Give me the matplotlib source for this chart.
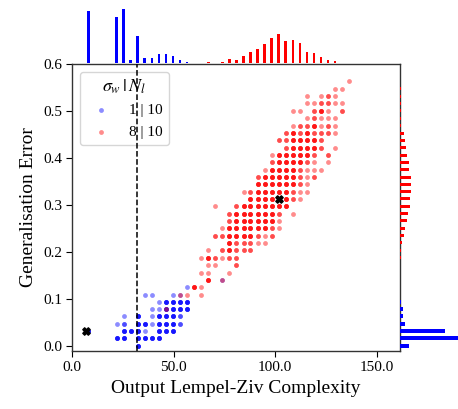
import numpy as np
import matplotlib
matplotlib.use('Agg')
import matplotlib.pyplot as plt
from matplotlib.ticker import FormatStrFormatter

plt.rcParams['font.family'] = ['Liberation Serif', 'DejaVu Serif']
plt.rcParams['mathtext.fontset'] = 'stix'

# grid of values the points sit on
lz_levels = [7.9, 11.4, 14.9, 18.3, 21.8, 25.3, 28.8, 32.2, 35.7, 39.2,
             42.7, 46.1, 49.6, 53.1, 56.6, 60.0, 63.5, 67.0, 70.5, 73.9,
             77.4, 80.9, 84.4, 87.8, 91.3, 94.8, 98.3, 101.7, 105.2, 108.7,
             112.2, 115.6, 119.1, 122.6, 126.1, 129.5, 133.0, 136.5]
err_levels = [0.000, 0.016, 0.031, 0.047, 0.063, 0.078, 0.094, 0.109, 0.125,
              0.141, 0.156, 0.172, 0.188, 0.203, 0.219, 0.234, 0.250, 0.266,
              0.281, 0.297, 0.313, 0.328, 0.344, 0.359, 0.375, 0.391, 0.406,
              0.422, 0.438, 0.453, 0.469, 0.484, 0.500, 0.516, 0.531, 0.547,
              0.563]

# scatter: error row -> (first lz column, number of samples per column)
blue_rows = {
    9: (19, "1"),
    8: (14, "1"),
    7: (8, "11..11"),
    6: (10, "14444"),
    5: (9, "114444"),
    4: (5, "1.4.14442"),
    3: (4, "12.4414442"),
    2: (0, "4....4441.444"),
    1: (4, "44.4444"),
    0: (7, "4"),
}
red_rows = {
    36: (37, "1"),
    35: (35, "11"),
    34: (31, "1.121"),
    33: (31, "112211"),
    32: (29, "11.241.2"),
    31: (31, "12111"),
    30: (29, "1224121"),
    29: (28, "24242221"),
    28: (27, "2244442"),
    27: (28, "244442.1"),
    26: (26, "1444442.2"),
    25: (26, "2444421.1"),
    24: (25, "144442111"),
    23: (24, "244444212"),
    22: (24, "44444421"),
    21: (22, "1244444211"),
    20: (23, "44444421"),
    19: (18, "1..24444444"),
    18: (20, "24444442.1"),
    17: (20, "24444441"),
    16: (19, "144444421"),
    15: (18, "224444212"),
    14: (20, "422211"),
    13: (17, "1.24222"),
    12: (16, "142122"),
    11: (17, "11..2"),
    10: (16, "11..1"),
    9: (17, "4.1"),
    8: (15, "41"),
    7: (13, "11.1"),
    5: (11, "1"),
}

cross_lz = [6.8, 101.7]
cross_err = [0.031, 0.313]
dashed_lz = 31.7

# marginal histograms (heights)
top_blue_idx = [0, 4, 5, 6, 7, 8, 9, 10, 11, 12, 13, 14]
top_blue_h = [52, 46, 53.7, 3.4, 27.4, 5, 5, 8.7, 8.7, 6.7, 3.4, 1.4]
top_red_idx = [16, 17, 18, 19, 20, 21, 22, 23, 24, 25, 26, 27, 28, 29, 30,
               31, 32, 33, 34, 35]
top_red_h = [0.5, 1, 0.5, 0.7, 4.3, 2.7, 7, 11, 13.7, 19.3, 25, 29.3, 21.7,
             22.7, 20.3, 11, 10, 6, 3.3, 1.7]
right_blue_idx = [0, 1, 2, 3, 4, 5, 6]
right_blue_len = [9.3, 62, 44.7, 4.7, 3.3, 2.7, 0.7]
right_red_idx = [12, 13, 14, 15, 16, 17, 18, 19, 20, 21, 22, 23, 24, 25, 26,
                 27, 28, 29, 30, 31, 32, 33, 34, 35]
right_red_len = [0.7, 1.3, 2.3, 4, 5.3, 6.7, 8, 10, 9.7, 11.3, 11.3, 10.7, 9,
                 9, 6.7, 6, 4.7, 4, 1.3, 1.0, 1.0, 0.7, 0.5, 0.5]


def expand(rows):
    xs, ys = [], []
    for k, (start, pattern) in rows.items():
        for i, ch in enumerate(pattern):
            if ch != '.':
                n = int(ch)
                xs += [lz_levels[start + i]] * n
                ys += [err_levels[k]] * n
    return xs, ys


W, H = 458, 409
fig = plt.figure(figsize=(W / 100, H / 100), dpi=100)
ax = fig.add_axes([72.3 / W, 58 / H, 327.7 / W, 287 / H])
ax_top = fig.add_axes([72.3 / W, 346 / H, 327.7 / W, 63 / H])
ax_right = fig.add_axes([400 / W, 58 / H, 58 / W, 287 / H])

bx, by = expand(blue_rows)
rx, ry = expand(red_rows)
ax.scatter(bx, by, s=12, color='blue', alpha=0.45, linewidths=0, label='1 | 10')
ax.scatter(rx, ry, s=12, color='red', alpha=0.45, linewidths=0, label='8 | 10')
ax.scatter(cross_lz, cross_err, marker='X', s=28, color='black', zorder=4)
ax.axvline(dashed_lz, color='black', ls='--', lw=1.1, zorder=6)

ax.set_xlim(0, 161.5)
ax.set_ylim(-0.011, 0.6)
ax.set_xticks([0, 50, 100, 150])
ax.set_yticks([0.0, 0.1, 0.2, 0.3, 0.4, 0.5, 0.6])
ax.xaxis.set_major_formatter(FormatStrFormatter('%.1f'))
ax.yaxis.set_major_formatter(FormatStrFormatter('%.1f'))
ax.tick_params(labelsize=11, direction='out', length=4)
for sp in ax.spines.values():
    sp.set_color('#333333')
    sp.set_linewidth(1.0)
ax.set_xlabel('Output Lempel-Ziv Complexity', fontsize=14)
ax.set_ylabel('Generalisation Error', fontsize=14)
leg = ax.legend(loc='upper left', title=r'$\sigma_w\,|\,N_l$', fontsize=11,
                title_fontsize=13)

# top marginal
ax_top.bar([lz_levels[i] for i in top_blue_idx], top_blue_h, width=1.3, color='blue')
ax_top.bar([lz_levels[i] for i in top_red_idx], top_red_h, width=1.3, color='red')
ax_top.set_xlim(ax.get_xlim())
ax_top.set_ylim(0, 63)
ax_top.axis('off')

# right marginal
ax_right.barh([err_levels[i] for i in right_blue_idx], right_blue_len, height=0.008, color='blue')
ax_right.barh([err_levels[i] for i in right_red_idx], right_red_len, height=0.0065, color='red')
ax_right.set_ylim(ax.get_ylim())
ax_right.set_xlim(0, 58)
ax_right.axis('off')

fig.savefig('out.png', dpi=100)
